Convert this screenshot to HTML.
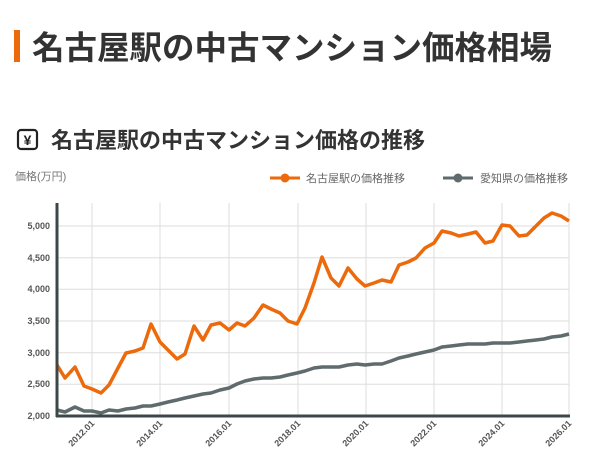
<!DOCTYPE html>
<html><head><meta charset="utf-8"><style>
body{margin:0;background:#fff;width:600px;height:471px;overflow:hidden;font-family:"Liberation Sans","Noto Sans CJK JP",sans-serif;}
</style></head><body>
<svg width="600" height="471" xmlns="http://www.w3.org/2000/svg" font-family="Liberation Sans, Noto Sans CJK JP, sans-serif">
<rect x="14" y="30" width="6" height="32" fill="#ec6a0c"/>
<text x="32" y="59" font-size="32.5" font-weight="bold" fill="#333">名古屋駅の中古マンション価格相場</text>
<rect x="18" y="130" width="19" height="19" rx="3" fill="none" stroke="#222" stroke-width="2.2"/>
<text x="27.5" y="145" font-size="14" font-weight="bold" text-anchor="middle" fill="#222">¥</text>
<text x="51" y="148" font-size="22" font-weight="bold" fill="#333">名古屋駅の中古マンション価格の推移</text>
<text x="15" y="180" font-size="11" fill="#777">価格(万円)</text>
<line x1="270" y1="178" x2="300" y2="178" stroke="#ec6a0c" stroke-width="3"/><circle cx="285" cy="178" r="4.5" fill="#ec6a0c"/>
<text x="306" y="182" font-size="11" fill="#666">名古屋駅の価格推移</text>
<line x1="443" y1="178" x2="473" y2="178" stroke="#5f6b6d" stroke-width="3"/><circle cx="458" cy="178" r="4.5" fill="#5f6b6d"/>
<text x="480" y="182" font-size="11" fill="#666">愛知県の価格推移</text>
<g stroke="#ddd" stroke-width="1">
<line x1="57" y1="226" x2="569" y2="226"/><line x1="57" y1="257.7" x2="569" y2="257.7"/><line x1="57" y1="289.3" x2="569" y2="289.3"/><line x1="57" y1="321" x2="569" y2="321"/><line x1="57" y1="352.7" x2="569" y2="352.7"/><line x1="57" y1="384.3" x2="569" y2="384.3"/>
<line x1="92" y1="203" x2="92" y2="416"/><line x1="160" y1="203" x2="160" y2="416"/><line x1="229" y1="203" x2="229" y2="416"/><line x1="298" y1="203" x2="298" y2="416"/><line x1="366" y1="203" x2="366" y2="416"/><line x1="434" y1="203" x2="434" y2="416"/><line x1="502" y1="203" x2="502" y2="416"/><line x1="569" y1="203" x2="569" y2="416"/>
</g>
<g font-size="9" font-weight="bold" fill="#555" text-anchor="end">
<text x="50" y="229">5,000</text><text x="50" y="261">4,500</text><text x="50" y="292">4,000</text><text x="50" y="324">3,500</text><text x="50" y="356">3,000</text><text x="50" y="387">2,500</text><text x="50" y="419">2,000</text>
</g>
<g font-size="9" font-weight="bold" fill="#555" text-anchor="end">
<text transform="translate(95,424) rotate(-45)">2012.01</text><text transform="translate(163,424) rotate(-45)">2014.01</text><text transform="translate(232,424) rotate(-45)">2016.01</text><text transform="translate(301,424) rotate(-45)">2018.01</text><text transform="translate(369,424) rotate(-45)">2020.01</text><text transform="translate(437,424) rotate(-45)">2022.01</text><text transform="translate(505,424) rotate(-45)">2024.01</text><text transform="translate(572,424) rotate(-45)">2026.01</text>
</g>
<polyline fill="none" stroke="#5f6b6d" stroke-width="3.5" stroke-linejoin="round" points="57,410 65,412 75,407 84,411 92,411 101,413 109,410 118,411 126,409 135,408 143,406 151,406 160,404 168,402 177,400 185,398 194,396 203,394 211,393 220,390 229,388 237,384 245,381 254,379 263,378 271,378 280,377 288,375 297,373 305,371 314,368 322,367 331,367 339,367 348,365 357,364 365,365 374,364 382,364 391,361 399,358 408,356 416,354 425,352 434,350 442,347 451,346 459,345 468,344 476,344 485,344 493,343 502,343 510,343 519,342 527,341 536,340 544,339 552,337 561,336 569,334"/>
<polyline fill="none" stroke="#ec6a0c" stroke-width="3.5" stroke-linejoin="round" points="57,365 65,378 75,367 84,386 92,389 101,393 109,385 118,368 126,353 135,351 143,348 151,324 160,342 168,350 177,359 185,354 194,326 203,340 211,325 220,323 229,330 237,323 245,326 254,318 263,305 271,309 280,313 288,321 297,324 305,308 314,283 322,257 331,278 339,286 348,268 357,279 365,286 374,283 382,280 391,282 399,265 408,262 416,258 425,248 434,243 442,231 451,233 459,236 468,234 476,232 485,243 493,241 502,225 510,226 519,236 527,235 536,226 544,218 552,213 561,216 569,221"/>
<line x1="57" y1="203" x2="57" y2="417" stroke="#3d474a" stroke-width="3"/>
<line x1="56" y1="416" x2="570" y2="416" stroke="#3d474a" stroke-width="3"/>
</svg>
</body></html>
